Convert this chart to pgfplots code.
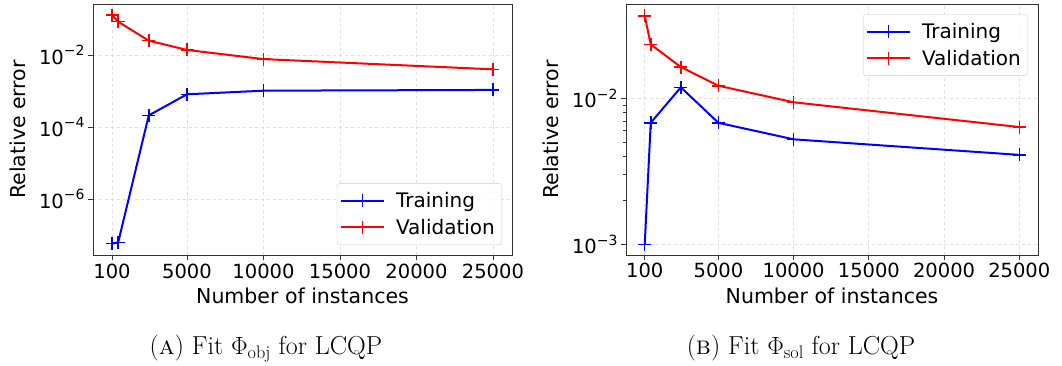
\documentclass[border=0pt]{standalone}
\usepackage{fontspec}
\usepackage{pgfplots}
\pgfplotsset{compat=1.18}
\newfontfamily\dejavu{DejaVu Sans}
\newcommand\tfont{\dejavu\fontsize{19.5}{23}\selectfont}
\newcommand\lfont{\dejavu\fontsize{20.5}{24}\selectfont}
\newcommand\gfont{\dejavu\fontsize{20}{24}\selectfont}
\newcommand\tp[2]{#1\raisebox{0.42em}{\fontsize{14}{14}\selectfont #2}}
\definecolor{mblue}{RGB}{0,0,255}
\definecolor{mred}{RGB}{255,0,0}
\pgfplotsset{
 myaxis/.style={
  scale only axis, height=251pt,
  xmin=-1145, xmax=26245, scaled x ticks=false,
  xtick={100,5000,10000,15000,20000,25000},
  xticklabels={100,5000,10000,15000,20000,25000},
  tick pos=left, tick align=outside,
  major tick length=5pt, minor tick length=3pt,
  every tick/.style={black!80, line width=0.8pt},
  axis line style={black!80, line width=1pt},
  xmajorgrids, ymajorgrids, major grid style={dashed, black!12, line width=0.8pt},
  font=\tfont, tick label style={font=\tfont}, label style={font=\lfont},
  xlabel={Number of instances}, ylabel={Relative error},
  xlabel style={yshift=-3pt}, ylabel style={yshift=6pt},
  legend cell align=left,
  legend style={font=\gfont, draw=black!20, rounded corners=3pt, fill=white, fill opacity=0.8, text opacity=1, inner xsep=3pt, inner ysep=4pt, row sep=0pt,
    nodes={inner xsep=4pt, inner ysep=5pt},
    /tikz/every odd column/.append style={column sep=7pt}},
  legend image code/.code={\draw[mark repeat=2, mark phase=2] plot coordinates {(0pt,0pt) (21.5pt,0pt) (43pt,0pt)};},
  every axis plot/.append style={line width=2pt, mark=+, mark size=6.5pt, mark options={line width=1.5pt}},
 }
}
\begin{document}
\begin{tikzpicture}
\path[use as bounding box] (0,0) rectangle (1062pt,365pt);
\begin{axis}[ymode=log, myaxis, width=419pt, at={(93pt,110pt)}, anchor=south west,
  ymin=2.78e-8, ymax=0.261, yminorticks=false,
  ytick={1e-6,1e-4,1e-2},
  yticklabels={\tp{10}{−6},\tp{10}{−4},\tp{10}{−2}},
  legend style={at={(1,0)}, anchor=south east, xshift=-10pt, yshift=10pt}]
\addplot[mblue] coordinates {(100,5.8e-8) (500,6.2e-8) (2500,2.1e-4) (5000,8.1e-4) (10000,1.02e-3) (25000,1.07e-3)};
\addlegendentry{Training}
\addplot[mred] coordinates {(100,0.129) (500,0.084) (2500,0.025) (5000,0.0138) (10000,0.0077) (25000,0.0040)};
\addlegendentry{Validation}
\end{axis}
\begin{axis}[ymode=log, myaxis, width=412pt, at={(626pt,110pt)}, anchor=south west,
  ymin=0.000845, ymax=0.0443,
  ytick={1e-3,1e-2},
  yticklabels={\tp{10}{−3},\tp{10}{−2}},
  legend style={at={(1,1)}, anchor=north east, xshift=-10pt, yshift=-10pt}]
\addplot[mblue] coordinates {(100,0.0010) (500,0.0068) (2500,0.0119) (5000,0.0068) (10000,0.00524) (25000,0.0041)};
\addlegendentry{Training}
\addplot[mred] coordinates {(100,0.0368) (500,0.0234) (2500,0.0164) (5000,0.0122) (10000,0.0094) (25000,0.00636)};
\addlegendentry{Validation}
\end{axis}
\node[anchor=base, font=\fontsize{26}{30}\selectfont] at (266pt,11pt) {(\textsc{a}) Fit $\Phi_{\mathrm{obj}}$ for LCQP};
\node[anchor=base, font=\fontsize{26}{30}\selectfont] at (801pt,11pt) {(\textsc{b}) Fit $\Phi_{\mathrm{sol}}$ for LCQP};
\end{tikzpicture}
\end{document}
